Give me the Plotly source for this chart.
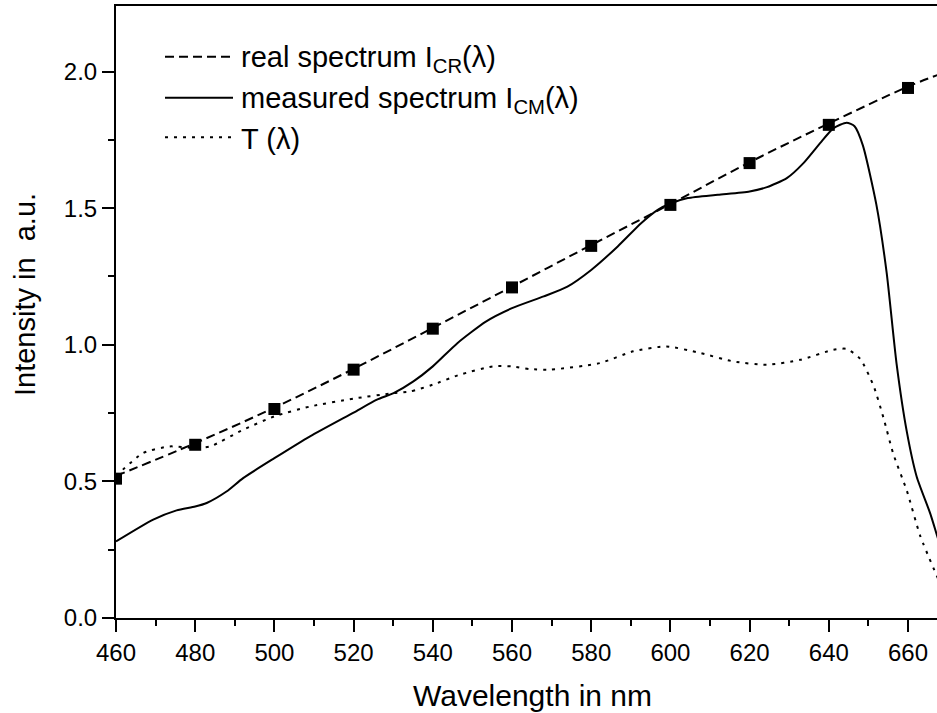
import plotly.graph_objects as go

# ---- data ----
wl_real = [460, 480, 500, 520, 540, 560, 580, 600, 620, 640, 660]
i_real = [0.51, 0.634, 0.765, 0.909, 1.059, 1.21, 1.362, 1.512, 1.665, 1.805, 1.94]
wl_real_line = [460, 480, 500, 520, 540, 560, 580, 600, 620, 640, 660, 668]
i_real_line = [0.52, 0.64, 0.77, 0.912, 1.062, 1.213, 1.365, 1.515, 1.668, 1.81, 1.945, 1.99]

wl_meas = [460, 469.4, 475.3, 480, 482.9, 487.9, 492.1, 500, 509, 520, 525.9, 530.1,
           535.1, 540, 546.2, 553.4, 560, 568, 574, 580, 586.7, 592.6, 596.8, 600.2,
           604.4, 612, 620, 624.4, 629.4, 633.6, 637.8, 641.2, 644.5, 646.5, 648.6,
           652.0, 654.6, 657.1, 659.7, 662.2, 665.6, 668]
i_meas = [0.28, 0.36, 0.394, 0.408, 0.421, 0.463, 0.512, 0.585, 0.665, 0.752, 0.799, 0.823,
          0.866, 0.921, 1.006, 1.085, 1.134, 1.177, 1.213, 1.274, 1.36, 1.445, 1.494, 1.518,
          1.537, 1.549, 1.561, 1.577, 1.61, 1.665, 1.738, 1.793, 1.813, 1.80, 1.73,
          1.514, 1.265, 0.932, 0.682, 0.517, 0.383, 0.27]

wl_t = [460, 466.9, 473.6, 480, 483.8, 492.1, 500, 509, 520, 530.1, 534.3, 540, 546.7,
        555.1, 560, 564.6, 569.6, 582.2, 590.6, 599, 607.5, 615.9, 624.4, 632.8, 641.2,
        644.5, 647.9, 651.3, 653.8, 656.3, 659.7, 663.1, 668]
t_val = [0.52, 0.604, 0.628, 0.622, 0.628, 0.689, 0.738, 0.774, 0.803, 0.823, 0.829, 0.854, 0.89,
         0.921, 0.921, 0.911, 0.909, 0.933, 0.976, 0.994, 0.970, 0.939, 0.927, 0.945, 0.982,
         0.985, 0.949, 0.85, 0.733, 0.60, 0.466, 0.30, 0.13]

x_ticks = [460, 480, 500, 520, 540, 560, 580, 600, 620, 640, 660]
y_ticks = [0.0, 0.5, 1.0, 1.5, 2.0]

legend_labels = ["real spectrum I<sub>CR</sub>(λ)",
                 "measured spectrum I<sub>CM</sub>(λ)",
                 "T (λ)"]

FONT = "Arial, Liberation Sans, Helvetica, sans-serif"
W, H = 937, 713
ML, MR, MT, MB = 116, 0, 6, 95

fig = go.Figure()
fig.add_trace(go.Scatter(x=wl_real_line, y=i_real_line, mode="lines",
                         line=dict(color="black", width=2, dash="9px,5px", shape="spline"),
                         showlegend=False, hoverinfo="skip"))
fig.add_trace(go.Scatter(x=wl_meas, y=i_meas, mode="lines",
                         line=dict(color="black", width=2, shape="spline", smoothing=0.6),
                         showlegend=False))
fig.add_trace(go.Scatter(x=wl_t, y=t_val, mode="lines",
                         line=dict(color="black", width=2, dash="3px,6px", shape="spline", smoothing=0.6),
                         showlegend=False))
fig.add_trace(go.Scatter(x=wl_real, y=i_real, mode="markers",
                         marker=dict(symbol="square", size=12, color="black"),
                         showlegend=False))

axis_common = dict(showline=True, linecolor="black", linewidth=2, ticks="outside",
                   ticklen=12, tickwidth=2, tickcolor="black", showgrid=False,
                   zeroline=False, tickfont=dict(family=FONT, size=24, color="black"))

fig.update_xaxes(range=[460, 460 + (W - ML - MR) / 3.96], tickvals=x_ticks,
                 mirror=True,
                 minor=dict(dtick=10, ticklen=6, tickwidth=2, tickcolor="black", ticks="outside"),
                 **axis_common)
fig.update_yaxes(range=[0, 2.24], tickvals=y_ticks, tickformat=".1f",
                 minor=dict(dtick=0.25, ticklen=6, tickwidth=2, tickcolor="black", ticks="outside"),
                 **axis_common)

pw = W - ML - MR
ph = H - MT - MB


def px_x(p):
    return (p - ML) / pw


def px_y(p):
    return (H - MB - p) / ph


annotations = [
    dict(text="Wavelength in nm", x=px_x(532), y=px_y(695), xref="paper", yref="paper",
         showarrow=False, font=dict(family=FONT, size=30, color="black"),
         xanchor="center", yanchor="middle"),
    dict(text="Intensity in\u00a0 a.u.", x=px_x(25), y=px_y(295), xref="paper", yref="paper",
         showarrow=False, textangle=-90, font=dict(family=FONT, size=29, color="black"),
         xanchor="center", yanchor="middle"),
]
shapes = []
rows = [56.7, 97.7, 137.3]
dashes = ["9px,5px", "solid", "3px,6px"]
for lbl, ry, d in zip(legend_labels, rows, dashes):
    shapes.append(dict(type="line", xref="paper", yref="paper",
                       x0=px_x(165), x1=px_x(233), y0=px_y(ry), y1=px_y(ry),
                       line=dict(color="black", width=2, dash=d)))
    annotations.append(dict(text=lbl, x=px_x(239), y=px_y(ry + 2), xref="paper", yref="paper",
                            showarrow=False, xanchor="left", yanchor="middle",
                            font=dict(family=FONT, size=29, color="black")))

fig.update_layout(width=W, height=H, margin=dict(l=ML, r=MR, t=MT, b=MB),
                  plot_bgcolor="white", paper_bgcolor="white",
                  annotations=annotations, shapes=shapes, showlegend=False)

fig.write_html("out.html")
